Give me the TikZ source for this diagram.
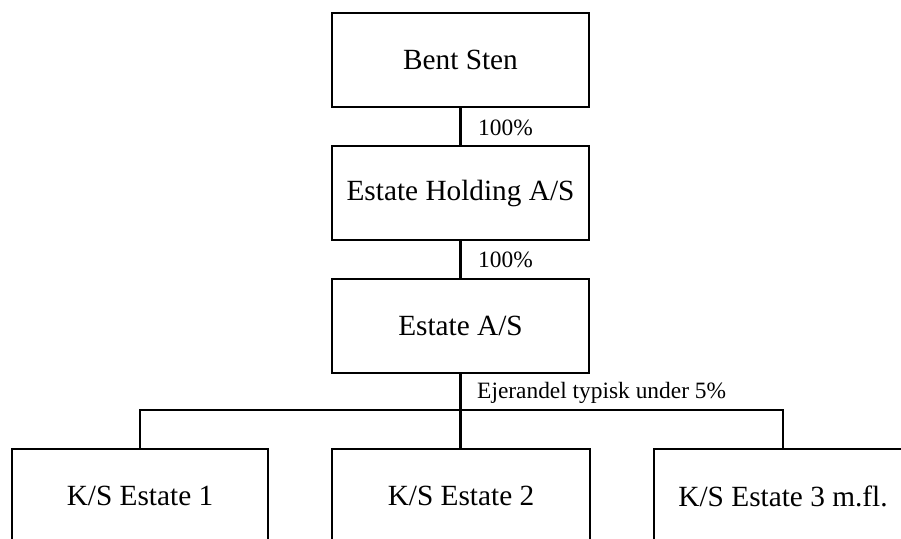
\documentclass[tikz,border=0pt]{standalone}
\usepackage{fontspec}
\setmainfont{Liberation Serif}
\begin{document}
\begin{tikzpicture}[x=1pt,y=-1pt,
  box/.style={draw, line width=2.2pt, inner sep=0pt, minimum width=257pt, minimum height=94pt,
    font=\fontsize{29.3}{33}\selectfont},
  lbl/.style={inner sep=0pt, anchor=base west, font=\fontsize{23.4}{26}\selectfont},
  conn/.style={line width=2.2pt}]
\useasboundingbox (0,0) rectangle (901,538);
\clip (0,0) rectangle (901,538);
\node[box] (bent) at (460.5,60) {Bent Sten};
\node[box] (hold) at (460.5,193) {Estate Holding A/S};
\node[box] (est) at (460.5,326) {Estate A/S};
\node[box, minimum width=256pt] (ks1) at (140,496) {K/S Estate 1};
\node[box, minimum width=258pt] (ks2) at (461,496) {K/S Estate 2};
\node[box, minimum width=258pt] (ks3) at (783,496) {K/S Estate 3 m.fl.};
\draw[conn] (bent.south) -- (hold.north);
\draw[conn] (hold.south) -- (est.north);
\draw[conn] (est.south) -- (est.south |- ks2.north);
\draw[conn] (ks1.north) -- ++(0,-38) coordinate (barl) -- (barl -| ks3.north) -- (ks3.north);
\node[lbl] (p1) at (478,135) {100\%};
\node[lbl] (p2) at (478,267) {100\%};
\node[lbl] (p3) at (477,398) {Ejerandel typisk under 5\%};
\end{tikzpicture}
\end{document}
